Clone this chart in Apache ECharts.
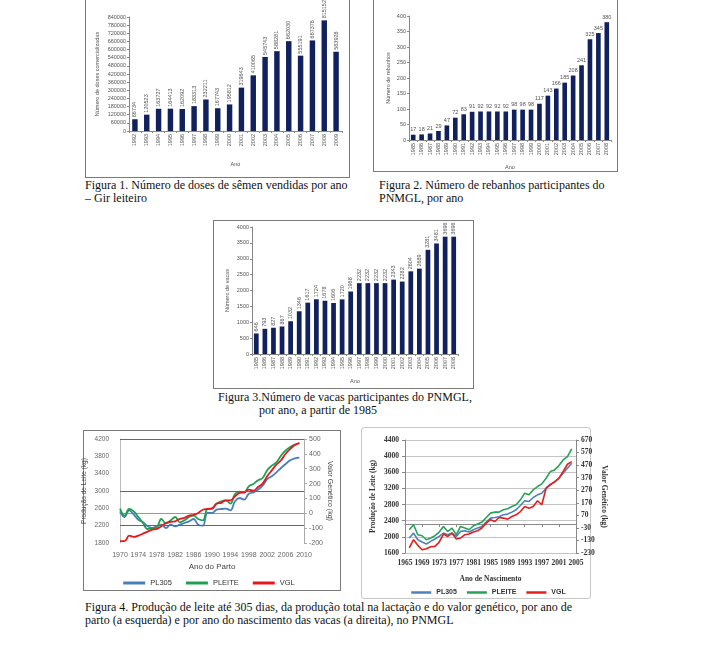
<!DOCTYPE html>
<html><head><meta charset="utf-8">
<script src="https://cdn.jsdelivr.net/npm/echarts@6/dist/echarts.min.js"></script>
<style>
body{margin:0;background:#fff;width:713px;height:650px;position:relative;overflow:hidden;font-family:"Liberation Serif","Times New Roman",serif;}
.box{position:absolute;border:1px solid #7a7a7a;box-sizing:border-box;}
.chart{position:absolute;}
.cap{position:absolute;font-size:12px;line-height:13px;color:#111;white-space:nowrap;}
</style></head><body>
<div class="box" style="left:85px;top:-2px;width:265px;height:180px;"></div>
<div class="box" style="left:373px;top:-2px;width:245px;height:174px;"></div>
<div class="box" style="left:213px;top:220px;width:261px;height:169px;"></div>
<div class="box" style="left:83px;top:430px;width:258px;height:161px;"></div>
<div class="box" style="left:361px;top:427px;width:230px;height:172px;border-color:#c8c8c8;border-radius:3px;"></div>

<div id="c1" class="chart" style="left:86px;top:0px;width:263px;height:176px;"></div>
<div id="c2" class="chart" style="left:374px;top:0px;width:243px;height:171px;"></div>
<div id="c3" class="chart" style="left:214px;top:221px;width:259px;height:167px;"></div>
<div id="c4" class="chart" style="left:78px;top:431px;width:262px;height:159px;"></div>
<div id="c5" class="chart" style="left:362px;top:428px;width:253px;height:170px;"></div>

<div class="cap" style="left:85px;top:179px;">Figura 1. Número de doses de sêmen vendidas por ano<br>– Gir leiteiro</div>
<div class="cap" style="left:379px;top:179px;">Figura 2. Número de rebanhos participantes do<br>PNMGL, por ano</div>
<div class="cap" style="left:218px;top:391px;">Figura 3.Número de vacas participantes do PNMGL,</div>
<div class="cap" style="left:259px;top:404px;">por ano, a partir de 1985</div>
<div class="cap" style="left:85px;top:601px;">Figura 4. Produção de leite até 305 dias, da produção total na lactação e do valor genético, por ano de<br>parto (a esquerda) e por ano do nascimento das vacas (a direita), no PNMGL</div>

<script>
// ---- Figura 1 ----
const fig1Years = ['1992','1993','1994','1995','1996','1997','1998','1999','2000','2001','2002','2003','2004','2005','2006','2007','2008','2009'];
const fig1Doses = [86734,120523,163727,164413,162092,183313,232211,167743,195812,319643,410065,545743,588281,662030,555191,667376,815152,583928];
// ---- Figura 2 ----
const fig2Years = ['1985','1986','1987','1988','1989','1990','1991','1992','1993','1994','1995','1996','1997','1998','1999','2000','2001','2002','2003','2004','2005','2006','2007','2008'];
const fig2Herds = [17,18,21,29,47,72,83,91,92,92,92,92,98,98,98,117,143,166,185,208,241,325,345,380];
// ---- Figura 3 ----
const fig3Years = ['1985','1986','1987','1988','1989','1990','1991','1992','1993','1994','1995','1996','1997','1998','1999','2000','2001','2002','2003','2004','2005','2006','2007','2008'];
const fig3Cows = [646,793,827,867,1032,1346,1617,1724,1678,1606,1720,1968,2232,2232,2232,2232,2343,2282,2604,2689,3281,3481,3696,3696];
// ---- Figura 4 (esquerda): por ano de parto ----
const f4aYears = [1970,1971,1972,1973,1974,1975,1976,1977,1978,1979,1980,1981,1982,1983,1984,1985,1986,1987,1988,1989,1990,1991,1992,1993,1994,1995,1996,1997,1998,1999,2000,2001,2002,2003,2004,2005,2006,2007,2008,2009];
const f4aPL305 = [2531,2400,2554,2454,2338,2277,2185,2146,2185,2223,2146,2223,2185,2223,2262,2300,2354,2223,2200,2492,2492,2569,2585,2592,2554,2762,2838,2800,2938,2969,3031,3123,3277,3338,3431,3531,3623,3708,3754,3769];
const f4aPLEITE = [2592,2431,2585,2531,2400,2262,2123,2146,2169,2354,2246,2323,2400,2277,2323,2400,2431,2354,2323,2585,2600,2708,2762,2785,2708,2931,2985,2969,3108,3162,3246,3300,3477,3585,3662,3815,3938,4015,4069,4108];
const f4aVGL = [-188,-188,-150,-159,-150,-137,-123,-110,-105,-87,-65,-58,-54,-38,-31,-16,-11,2,24,29,31,65,70,87,87,114,137,141,159,152,177,200,249,289,327,357,401,433,460,473];
// ---- Figura 4 (direita): por ano de nascimento ----
const f4bYears = [1966,1967,1968,1969,1970,1971,1972,1973,1974,1975,1976,1977,1978,1979,1980,1981,1982,1983,1984,1985,1986,1987,1988,1989,1990,1991,1992,1993,1994,1995,1996,1997,1998,1999,2000,2001,2002,2003,2004];
const f4bPL305 = [1971,2094,1929,1872,1822,1888,1946,2012,2094,2053,2094,2012,2135,2152,2119,2177,2218,2259,2366,2465,2481,2498,2547,2564,2613,2671,2778,2893,2877,2975,3041,3082,3206,3305,3354,3453,3577,3700,3824];
const f4bPLEITE = [2177,2300,2053,2028,1929,1971,2028,2119,2259,2135,2218,2053,2259,2218,2177,2275,2317,2366,2481,2588,2613,2613,2671,2695,2753,2794,2918,3082,3041,3165,3247,3313,3453,3618,3659,3766,3906,3988,4178];
const f4bVGL = [-190,-124,-169,-204,-196,-180,-177,-143,-79,-98,-71,-119,-111,-84,-79,-63,-53,-31,8,35,21,53,48,40,61,74,100,141,127,141,186,154,286,313,339,366,419,477,498];

const NAVY = '#10215e';
const plain = v => String(v);
const tiny = {fontFamily:'Liberation Sans, Arial, sans-serif', color:'#555'};

function barChart(id, cats, vals, o){
  const ch = echarts.init(document.getElementById(id), null, {renderer:'canvas'});
  ch.setOption({
    animation:false,
    grid:Object.assign({outerBoundsMode:'none',containLabel:false},o.grid),
    xAxis:{type:'category',data:cats,name:'Ano',nameLocation:'middle',nameGap:o.nameGapX,nameMoveOverlap:false,
      nameTextStyle:Object.assign({fontSize:o.fs},tiny),
      axisLine:{lineStyle:{color:'#888',width:1}},axisTick:{show:true,length:2,lineStyle:{color:'#888'}},
      axisLabel:Object.assign({rotate:90,fontSize:o.fs,margin:3,interval:0},tiny)},
    yAxis:{type:'value',min:0,max:o.max,interval:o.interval,name:o.yname,nameLocation:'middle',nameGap:o.nameGapY,nameMoveOverlap:false,
      nameTextStyle:Object.assign({fontSize:o.fs},tiny),
      axisLine:{show:true,lineStyle:{color:'#888',width:1}},axisTick:{show:true,length:2,lineStyle:{color:'#888'}},
      splitLine:{show:false},axisLabel:Object.assign({fontSize:o.fs,margin:3,formatter:plain},tiny)},
    series:[{type:'bar',data:vals,barWidth:o.bw,itemStyle:{color:NAVY},
      label:Object.assign({show:true,position:'top',fontSize:o.fs,distance:2,formatter:p=>String(p.value)},tiny,o.rot?{rotate:90,align:'left',verticalAlign:'middle'}:{})}]
  });
}
barChart('c1', fig1Years, fig1Doses, {grid:{left:43,right:7,top:17,bottom:45},max:840000,interval:60000,
  yname:'Número de doses comercializadas',nameGapY:29,nameGapX:30,fs:5.5,bw:'46%',rot:true});
barChart('c2', fig2Years, fig2Herds, {grid:{left:35,right:6,top:16,bottom:31},max:400,interval:50,
  yname:'Número de rebanhos',nameGapY:18,nameGapX:24,fs:5.5,bw:'55%',rot:false});
barChart('c3', fig3Years, fig3Cows, {grid:{left:38,right:15,top:6,bottom:34},max:4000,interval:500,
  yname:'Número de vacas',nameGapY:22,nameGapX:24,fs:5.5,bw:'55%',rot:true});

const sans = 'Liberation Sans, Arial, sans-serif';
const C_BLUE='#4a7ebb', C_GREEN='#1ea050', C_RED='#e8161b';
function pairs(xs, ys){ return xs.map((x,i)=>[x, ys[i]]); }

// Figura 4 esquerda
echarts.init(document.getElementById('c4')).setOption({
  animation:false,
  grid:{left:42,right:36,top:8,bottom:47,outerBoundsMode:'none',containLabel:false},
  legend:{bottom:3,left:'center',padding:0,icon:'rect',itemWidth:22,itemHeight:3,itemGap:14,
    textStyle:{fontSize:7.5,fontFamily:sans,color:'#333'},data:['PL305','PLEITE','VGL']},
  xAxis:{type:'value',min:1970,max:2010,interval:4,name:'Ano do Parto',nameLocation:'middle',nameGap:20,nameMoveOverlap:false,
    nameTextStyle:{fontSize:8,fontFamily:sans,color:'#444'},
    axisLine:{lineStyle:{color:'#999'}},axisTick:{show:false},splitLine:{show:false},
    axisLabel:{fontSize:7,fontFamily:sans,color:'#666',margin:9,formatter:plain,showMinLabel:true,showMaxLabel:true}},
  yAxis:[
    {type:'value',min:1800,max:4200,interval:400,name:'Produção de Leite (kg)',nameLocation:'middle',nameGap:32,nameMoveOverlap:false,
     nameTextStyle:{fontSize:6.5,fontFamily:sans,color:'#444'},
     axisLine:{show:true,lineStyle:{color:'#bbb'}},axisTick:{show:false},splitLine:{show:false},
     axisLabel:{fontSize:6.5,fontFamily:sans,color:'#666',margin:11,formatter:plain}},
    {type:'value',min:-200,max:500,interval:100,name:'Valor Genético (kg)',nameLocation:'middle',nameGap:22,nameRotate:-90,nameMoveOverlap:false,
     nameTextStyle:{fontSize:7,fontFamily:sans,color:'#444'},
     axisLine:{show:true,lineStyle:{color:'#aaa'}},axisTick:{show:true,length:3,lineStyle:{color:'#aaa'}},splitLine:{show:false},
     axisLabel:{fontSize:7,fontFamily:sans,color:'#666',margin:5,formatter:plain}}
  ],
  series:[
    {name:'PL305',type:'line',data:pairs(f4aYears,f4aPL305),yAxisIndex:0,smooth:0.4,symbol:'none',lineStyle:{width:1.8,color:C_BLUE},itemStyle:{color:C_BLUE},
     markLine:{silent:true,symbol:'none',label:{show:false},lineStyle:{color:'#666',type:'solid',width:1},
       data:[{yAxis:4200},{yAxis:3000},{yAxis:2200}]}},
    {name:'PLEITE',type:'line',data:pairs(f4aYears,f4aPLEITE),yAxisIndex:0,smooth:0.4,symbol:'none',lineStyle:{width:1.8,color:C_GREEN},itemStyle:{color:C_GREEN}},
    {name:'VGL',type:'line',data:pairs(f4aYears,f4aVGL),yAxisIndex:1,smooth:0.4,symbol:'none',lineStyle:{width:1.8,color:C_RED},itemStyle:{color:C_RED}}
  ]
});

// Figura 4 direita
const serifB = 'Liberation Serif, Times New Roman, serif';
echarts.init(document.getElementById('c5')).setOption({
  animation:false,
  grid:{left:43,right:39,top:12,bottom:45,outerBoundsMode:'none',containLabel:false},
  legend:{bottom:2,left:'center',padding:0,icon:'rect',itemWidth:20,itemHeight:2.5,itemGap:10,
    textStyle:{fontSize:7,fontFamily:sans,fontWeight:'bold',color:'#333'},data:['PL305','PLEITE','VGL']},
  xAxis:{type:'value',min:1965,max:2005,interval:4,name:'Ano de Nascimento',nameLocation:'middle',nameGap:22,nameMoveOverlap:false,
    nameTextStyle:{fontSize:7.5,fontFamily:serifB,fontWeight:'bold',color:'#333'},
    axisLine:{lineStyle:{color:'#888'}},axisTick:{show:true,length:3,lineStyle:{color:'#888'}},splitLine:{show:false},
    axisLabel:{fontSize:7.5,fontFamily:serifB,fontWeight:'bold',color:'#333',margin:6,formatter:plain,showMinLabel:true,showMaxLabel:true}},
  yAxis:[
    {type:'value',min:1600,max:4400,interval:400,name:'Produção de Leite (kg)',nameLocation:'middle',nameGap:28,nameMoveOverlap:false,
     nameTextStyle:{fontSize:7.5,fontFamily:serifB,fontWeight:'bold',color:'#333'},
     axisLine:{show:true,lineStyle:{color:'#888'}},axisTick:{show:true,length:3,lineStyle:{color:'#888'}},
     splitLine:{show:true,lineStyle:{color:'#c4c4c4',width:1}},
     axisLabel:{fontSize:7.5,fontFamily:serifB,fontWeight:'bold',color:'#333',margin:6,formatter:plain}},
    {type:'value',min:-230,max:670,interval:100,name:'Valor Genético (kg)',nameLocation:'middle',nameGap:24,nameRotate:-90,nameMoveOverlap:false,
     nameTextStyle:{fontSize:7.5,fontFamily:serifB,fontWeight:'bold',color:'#333'},
     axisLine:{show:true,lineStyle:{color:'#888'}},axisTick:{show:true,length:3,lineStyle:{color:'#888'}},splitLine:{show:false},
     axisLabel:{fontSize:7.5,fontFamily:serifB,fontWeight:'bold',color:'#333',margin:5,formatter:plain}}
  ],
  series:[
    {name:'PL305',type:'line',data:pairs(f4bYears,f4bPL305),yAxisIndex:0,symbol:'none',lineStyle:{width:1.6,color:'#4f81bd'},itemStyle:{color:'#4f81bd'}},
    {name:'PLEITE',type:'line',data:pairs(f4bYears,f4bPLEITE),yAxisIndex:0,symbol:'none',lineStyle:{width:1.6,color:'#27a256'},itemStyle:{color:'#27a256'}},
    {name:'VGL',type:'line',data:pairs(f4bYears,f4bVGL),yAxisIndex:1,symbol:'none',lineStyle:{width:1.6,color:'#e3201b'},itemStyle:{color:'#e3201b'}}
  ]
});
</script>
</body></html>
